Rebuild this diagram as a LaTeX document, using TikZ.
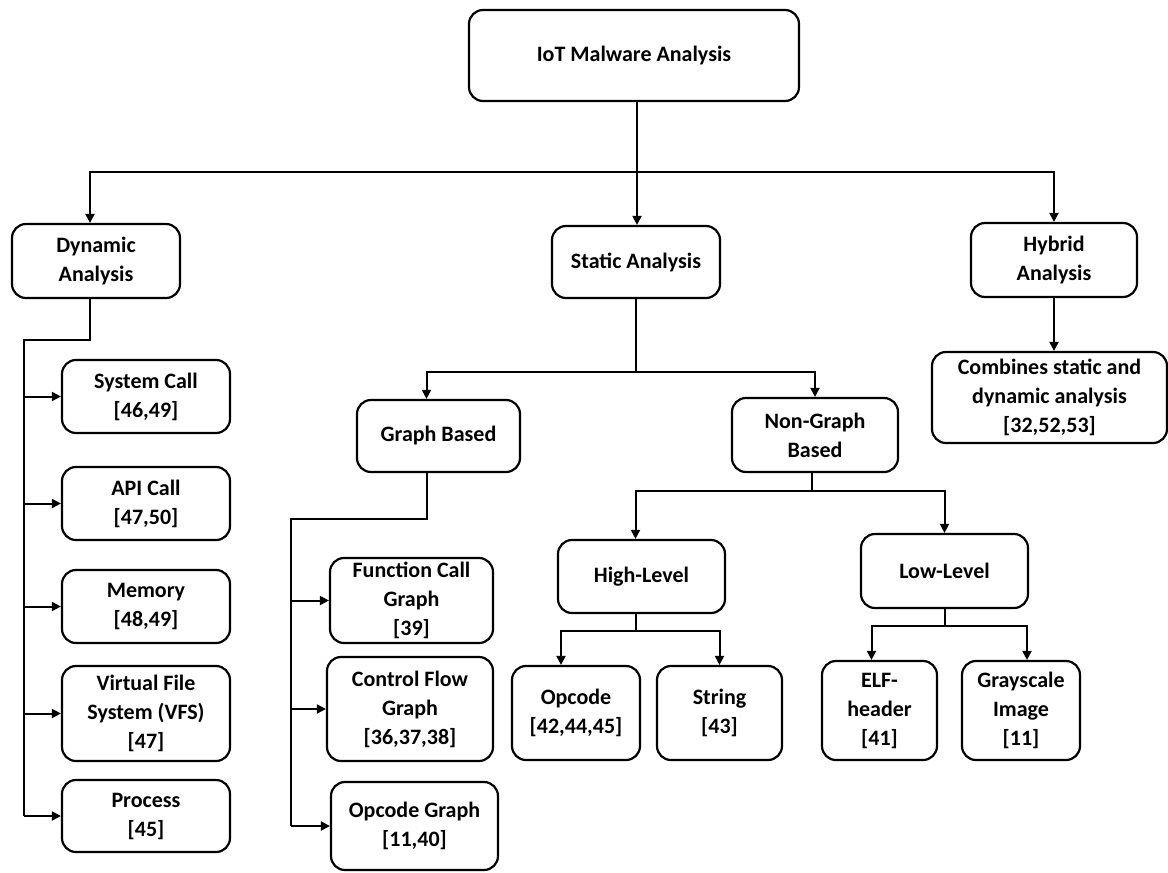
\documentclass[tikz,border=0pt]{standalone}
\usepackage{fontspec}
\setmainfont{Carlito}
\usetikzlibrary{arrows.meta}

\begin{document}
\begin{tikzpicture}[x=0.5pt,y=-0.5pt,>={Triangle[length=4.5pt,width=4.5pt]}, line width=1pt]
                \tikzstyle{block} = [draw, rectangle, rounded corners=7pt, line width=1.1pt, align=center, inner sep=2pt, font=\bfseries\fontsize{11}{14.5}\selectfont]
                \useasboundingbox (0,0) rectangle (1168,873);

                % Root
                \node[block, minimum width=165pt, minimum height=45.5pt] (root) at (634,55.5) {IoT Malware Analysis};

                % First level
                \node[block, minimum width=84pt, minimum height=37pt] (dyn) at (96,261) {Dynamic\\Analysis};
                \node[block, minimum width=84pt, minimum height=36pt] (stat) at (636,262) {Static Analysis};
                \node[block, minimum width=83pt, minimum height=37pt] (hyb) at (1054,260) {Hybrid\\Analysis};
                \node[block, minimum width=117.5pt, minimum height=45.5pt] (comb) at (1049.5,397.5) {Combines static and\\dynamic analysis\\{}[32,52,53]};

                % Dynamic children
                \node[block, minimum width=84pt, minimum height=36.5pt] (sys) at (146,396.5) {System Call\\{}[46,49]};
                \node[block, minimum width=84pt, minimum height=36.5pt] (api) at (146,503.5) {API Call\\{}[47,50]};
                \node[block, minimum width=84pt, minimum height=36.5pt] (mem) at (146,606.5) {Memory\\{}[48,49]};
                \node[block, minimum width=84pt, minimum height=47.5pt] (vfs) at (146,713.5) {Virtual File\\System (VFS)\\{}[47]};
                \node[block, minimum width=84pt, minimum height=36pt] (proc) at (146,816) {Process\\{}[45]};

                % Static children
                \node[block, minimum width=81.5pt, minimum height=36pt] (gb) at (438.5,436) {Graph Based};
                \node[block, minimum width=83pt, minimum height=37pt] (ngb) at (815,435) {Non-Graph\\Based};

                % Graph based children
                \node[block, minimum width=81.5pt, minimum height=42.5pt] (fcg) at (411.5,600.5) {Function Call\\Graph\\{}[39]};
                \node[block, minimum width=83pt, minimum height=52pt] (cfg) at (410,709) {Control Flow\\Graph\\{}[36,37,38]};
                \node[block, minimum width=83.5pt, minimum height=44pt] (og) at (414.5,826) {Opcode Graph\\{}[11,40]};

                % Non-graph based children
                \node[block, minimum width=83.5pt, minimum height=36.5pt] (hl) at (641.5,576.5) {High-Level};
                \node[block, minimum width=83.5pt, minimum height=37pt] (ll) at (944.5,571) {Low-Level};
                \node[block, minimum width=64pt, minimum height=47pt] (opc) at (576,713) {Opcode\\{}[42,44,45]};
                \node[block, minimum width=62.5pt, minimum height=47pt] (str) at (719.5,713) {String\\{}[43]};
                \node[block, minimum width=57.5pt, minimum height=49.5pt] (elf) at (879.5,710.5) {ELF-\\header\\{}[41]};
                \node[block, minimum width=59pt, minimum height=49.5pt] (gray) at (1021,710.5) {Grayscale\\Image\\{}[11]};

                % Top bar
                \coordinate (bar) at (637,172);
                \draw[->] (root.south -| bar) -- (bar |- stat.north);
                \draw[->] (bar) -| ([xshift=-3pt]dyn.north);
                \draw[->] (bar) -| (hyb.north);
                \draw[->] (hyb.south) -- (hyb.south |- comb.north);

                % Dynamic branch
                \coordinate (dtrunk) at (24,340);
                \draw ([xshift=-3pt]dyn.south) |- (dtrunk) -- (dtrunk |- proc.west);
                \foreach \n in {sys,api,mem,vfs,proc}
                    \draw[->] (dtrunk |- \n.west) -- (\n.west);

                % Static branch
                \coordinate (sbar) at (636,372);
                \draw (stat.south) -- (stat.south |- sbar);
                \draw[->] (sbar) -| ([xshift=-6pt]gb.north);
                \draw[->] (sbar) -| (ngb.north);

                % Graph based branch
                \coordinate (gtrunk) at (291,519);
                \draw ([xshift=-6pt]gb.south) |- (gtrunk) -- (gtrunk |- og.west);
                \foreach \n in {fcg,cfg,og}
                    \draw[->] (gtrunk |- \n.west) -- (\n.west);

                % Non-graph branch
                \coordinate (nbar) at (812,491);
                \draw (nbar |- ngb.south) -- (nbar);
                \draw[->] (nbar) -| ([xshift=-3pt]hl.north);
                \draw[->] (nbar) -| (ll.north);

                % High-level branch
                \coordinate (hbar) at (636,631);
                \draw (hbar |- hl.south) -- (hbar);
                \draw[->] (hbar) -| ([xshift=-7.5pt]opc.north);
                \draw[->] (hbar) -| (str.north);

                % Low-level branch
                \coordinate (lbar) at (945,626);
                \draw (lbar |- ll.south) -- (lbar);
                \draw[->] (lbar) -| ([xshift=-4pt]elf.north);
                \draw[->] (lbar) -| ([xshift=3pt]gray.north);
\end{tikzpicture}
\end{document}
